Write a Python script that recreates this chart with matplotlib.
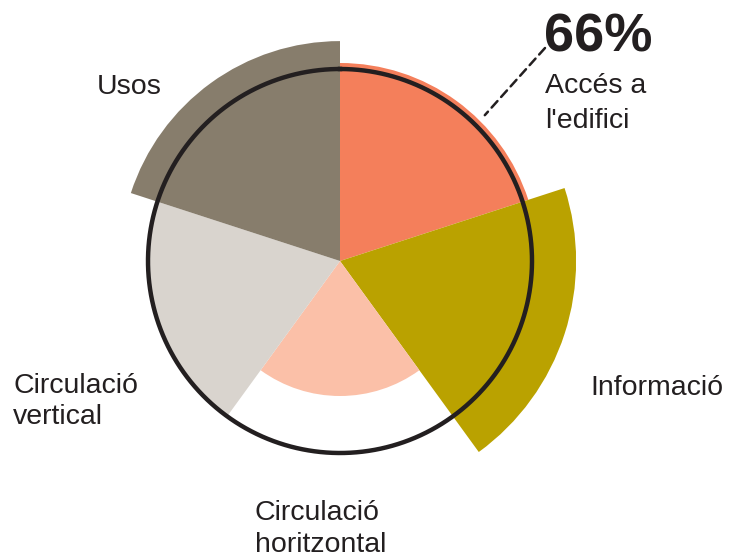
import numpy as np
import matplotlib
matplotlib.use('Agg')
import matplotlib.pyplot as plt

# sectors clockwise from 12 o'clock
categories = ['Accés a l\'edifici', 'Informació', 'Circulació horitzontal',
              'Circulació vertical', 'Usos']
values = [66, 78.7, 45, 64, 73.3]
colors = ['#F47F5B', '#BAA200', '#FBC0A8', '#D9D4CE', '#877D6C']
ref_circle = 64.0
highlight = '66%'

W, H = 734, 560
fig = plt.figure(figsize=(W / 100, H / 100), dpi=100)
plt.rcParams['font.family'] = ['Liberation Sans', 'DejaVu Sans']

# polar axes centred at (340, 261) px, 3 px per unit
cx, cy, R, rmax = 340, 261, 240, 80
ax = fig.add_axes([(cx - R) / W, (H - cy - R) / H, 2 * R / W, 2 * R / H],
                  projection='polar')
ax.set_theta_zero_location('N')
ax.set_theta_direction(-1)
ax.set_ylim(0, rmax)
ax.axis('off')

n = len(values)
width = 2 * np.pi / n
theta = np.arange(n) * width
ax.bar(theta, values, width=width, align='edge', color=colors,
       edgecolor='none', linewidth=0)

t = np.linspace(0, 2 * np.pi, 400)
ax.plot(t, np.full_like(t, ref_circle), color='#231F20', lw=3.2)

txt = '#231F20'
fs = 20.5


def ftext(x, y, s, **kw):
    fig.text(x / W, 1 - y / H, s, va='baseline', ha='left', color=txt, **kw)


ax.annotate('', xy=(np.deg2rad(44.8), 68.5), xycoords='data',
            xytext=(545 / W, 1 - 48 / H), textcoords='figure fraction',
            arrowprops=dict(arrowstyle='-', color=txt, lw=1.8,
                            linestyle=(0, (3.5, 2.2)), shrinkA=0, shrinkB=0))

ftext(544, 52, highlight, fontsize=39, fontweight='bold')
ftext(545, 93, 'Accés a', fontsize=fs)
ftext(545, 128, "l'edifici", fontsize=fs)
ftext(590, 395, 'Informació', fontsize=fs)
ftext(255, 520, 'Circulació', fontsize=fs)
ftext(255, 552, 'horitzontal', fontsize=fs)
ftext(13, 393, 'Circulació', fontsize=fs)
ftext(13, 424, 'vertical', fontsize=fs)
ftext(97, 94, 'Usos', fontsize=fs)

fig.savefig('out.png', dpi=100, facecolor='white')
